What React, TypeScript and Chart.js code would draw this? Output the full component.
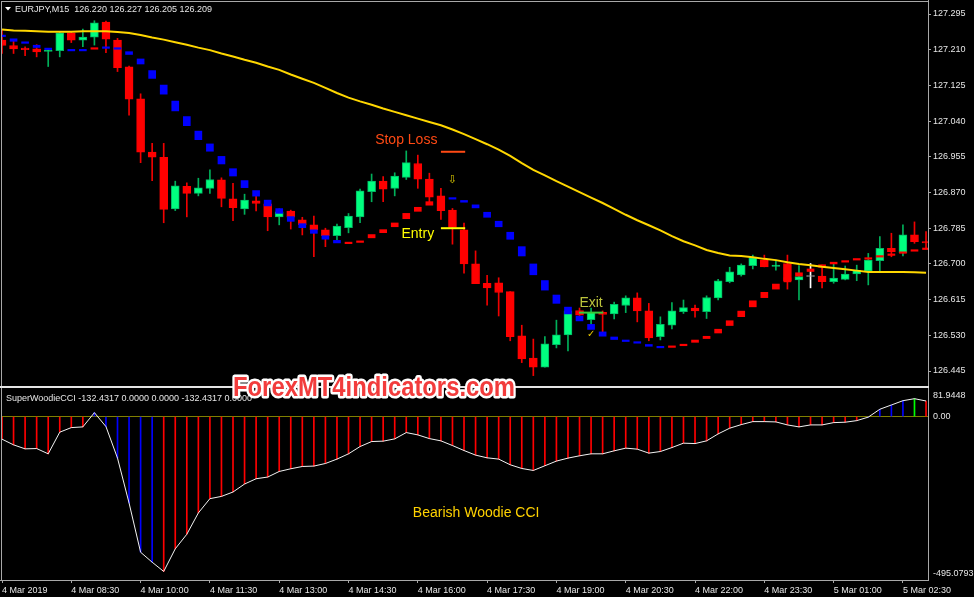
import React, { useEffect, useRef } from 'react';
import { Chart, registerables } from 'chart.js';

Chart.register(...registerables);

// ---------------- data ----------------
const symbolTitle = 'EURJPY,M15  126.220 126.227 126.205 126.209';
const cciTitle = 'SuperWoodieCCI -132.4317 0.0000 0.0000 -132.4317 0.0000';
const watermark = 'ForexMT4indicators.com';

const timeTickBars = [0, 6, 12, 18, 24, 30, 36, 42, 48, 54, 60, 66, 72, 78];
const timeTickLabels = [
  '4 Mar 2019', '4 Mar 08:30', '4 Mar 10:00', '4 Mar 11:30', '4 Mar 13:00', '4 Mar 14:30', '4 Mar 16:00',
  '4 Mar 17:30', '4 Mar 19:00', '4 Mar 20:30', '4 Mar 22:00', '4 Mar 23:30', '5 Mar 01:00', '5 Mar 02:30',
];
const priceTicks = [127.295, 127.21, 127.125, 127.04, 126.955, 126.87, 126.785, 126.7, 126.615, 126.53, 126.445];
const cciTicks = [81.9448, 0, -495.0793];
const cciTickLabels = ['81.9448', '0.00', '-495.0793'];

const opens = [
  127.233, 127.220, 127.214, 127.212, 127.206, 127.208, 127.250, 127.233, 127.240, 127.276,
  127.233, 127.169, 127.093, 126.966, 126.954, 126.831, 126.885, 126.868, 126.880, 126.900,
  126.855, 126.831, 126.850, 126.843, 126.812, 126.826, 126.805, 126.793, 126.781, 126.767,
  126.786, 126.812, 126.872, 126.897, 126.880, 126.906, 126.939, 126.902, 126.862, 126.828,
  126.781, 126.700, 126.654, 126.655, 126.634, 126.529, 126.476, 126.454, 126.508, 126.531,
  126.589, 126.567, 126.585, 126.581, 126.601, 126.619, 126.588, 126.527, 126.554, 126.586,
  126.595, 126.586, 126.619, 126.658, 126.674, 126.696, 126.710, 126.694, 126.701, 126.662,
  126.670, 126.671, 126.658, 126.663, 126.676, 126.683, 126.708, 126.737, 126.727, 126.769, 126.753,
];
const highs = [
  127.257, 127.231, 127.217, 127.222, 127.212, 127.253, 127.252, 127.259, 127.279, 127.278,
  127.237, 127.171, 127.105, 126.987, 126.987, 126.897, 126.893, 126.904, 126.924, 126.905,
  126.892, 126.866, 126.862, 126.850, 126.831, 126.828, 126.811, 126.814, 126.785, 126.795,
  126.820, 126.878, 126.914, 126.908, 126.917, 126.969, 126.959, 126.916, 126.880, 126.832,
  126.797, 126.731, 126.673, 126.667, 126.634, 126.554, 126.521, 126.527, 126.566, 126.596,
  126.595, 126.595, 126.588, 126.609, 126.624, 126.631, 126.606, 126.574, 126.608, 126.614,
  126.602, 126.624, 126.663, 126.692, 126.700, 126.721, 126.721, 126.709, 126.721, 126.696,
  126.701, 126.697, 126.701, 126.695, 126.697, 126.725, 126.765, 126.773, 126.793, 126.800, 126.777,
];
const lows = [
  127.201, 127.201, 127.196, 127.193, 127.170, 127.193, 127.227, 127.217, 127.221, 127.203,
  127.158, 127.054, 126.941, 126.898, 126.798, 126.827, 126.812, 126.862, 126.868, 126.836,
  126.803, 126.818, 126.826, 126.779, 126.793, 126.783, 126.769, 126.717, 126.741, 126.757,
  126.774, 126.798, 126.848, 126.848, 126.862, 126.901, 126.880, 126.848, 126.806, 126.747,
  126.678, 126.653, 126.602, 126.576, 126.517, 126.465, 126.434, 126.454, 126.500, 126.493,
  126.571, 126.555, 126.537, 126.569, 126.584, 126.562, 126.517, 126.519, 126.545, 126.582,
  126.573, 126.570, 126.614, 126.655, 126.671, 126.688, 126.693, 126.685, 126.640, 126.614,
  126.643, 126.643, 126.654, 126.662, 126.660, 126.650, 126.683, 126.717, 126.719, 126.749, 126.736,
];
const closes = [
  127.220, 127.212, 127.210, 127.205, 127.209, 127.250, 127.233, 127.240, 127.274, 127.235,
  127.167, 127.092, 126.966, 126.954, 126.830, 126.886, 126.868, 126.881, 126.901, 126.856,
  126.834, 126.852, 126.844, 126.812, 126.824, 126.811, 126.793, 126.781, 126.767, 126.790,
  126.814, 126.874, 126.897, 126.878, 126.909, 126.941, 126.902, 126.859, 126.827, 126.787,
  126.700, 126.653, 126.643, 126.632, 126.527, 126.474, 126.454, 126.510, 126.531, 126.588,
  126.578, 126.585, 126.580, 126.604, 126.619, 126.588, 126.524, 126.556, 126.588, 126.596,
  126.588, 126.620, 126.660, 126.681, 126.697, 126.715, 126.693, 126.697, 126.659, 126.670,
  126.670, 126.658, 126.666, 126.676, 126.685, 126.709, 126.737, 126.729, 126.769, 126.753, 126.750,
];

const maValues = [
  127.258, 127.256, 127.255, 127.254, 127.253, 127.253, 127.253, 127.254, 127.254, 127.254,
  127.252, 127.250, 127.245, 127.239, 127.234, 127.228, 127.222, 127.215, 127.209, 127.201,
  127.194, 127.186, 127.179, 127.170, 127.162, 127.151, 127.141, 127.131, 127.119, 127.107,
  127.096, 127.087, 127.079, 127.070, 127.062, 127.054, 127.046, 127.038, 127.030, 127.020,
  127.009, 126.997, 126.985, 126.972, 126.957, 126.940, 126.924, 126.911, 126.897, 126.884,
  126.871, 126.858, 126.845, 126.831, 126.817, 126.804, 126.792, 126.780, 126.766, 126.754,
  126.744, 126.733, 126.726, 126.720, 126.719, 126.716, 126.712, 126.709, 126.704, 126.700,
  126.697, 126.693, 126.690, 126.687, 126.684, 126.681, 126.681, 126.681, 126.681, 126.680, 126.679,
];

// SuperTrend: falling (blue) and rising (red) values per bar
const stDown = [
  127.243, 127.233, 127.227, 127.218, 127.212, null, 127.209, 127.209, null, 127.215,
  127.213, 127.202, 127.182, 127.151, 127.115, 127.076, 127.040, 127.006, 126.977, 126.947,
  126.918, 126.890, 126.868, 126.845, 126.826, 126.807, 126.791, 126.777, 126.763, 126.753,
  null, null, null, null, null, null, null, null, null, 126.856,
  126.849, 126.837, 126.817, 126.795, 126.767, 126.730, 126.687, 126.649, 126.616, 126.589,
  126.570, 126.550, 126.533, 126.523, 126.517, 126.513, 126.506, 126.502, null, null,
  null, null, null, null, null, null, null, null, null, null,
  null, null, null, null, null, null, null, null, null, null, null,
];
const stUp = [
  null, null, null, null, null, null, null, null, 127.213, null,
  null, null, null, null, null, null, null, null, null, null,
  null, null, null, null, null, null, null, null, null, null,
  126.750, 126.753, 126.766, 126.778, 126.793, 126.814, 126.830, 126.844, null, null,
  null, null, null, null, null, null, null, null, null, null,
  null, null, null, null, null, null, null, null, 126.503, 126.507,
  126.516, 126.525, 126.540, 126.559, 126.581, 126.605, 126.626, 126.646, 126.662, 126.675,
  126.685, 126.695, 126.702, 126.706, 126.711, 126.713, 126.718, 126.722, 126.727, 126.732, 126.736,
];

const cciValues = [
  -68.3, -85.5, -97.6, -96.7, -112.7, -47.1, -33.2, -31.1, 12.1, -30.2,
  -125.7, -261.6, -410.9, -441.1, -469.2, -400.6, -356.5, -291.8, -248.6, -241.7,
  -228.4, -204.2, -188.2, -183.1, -166.2, -158.0, -151.1, -149.8, -142.0, -128.7,
  -112.7, -90.6, -75.5, -74.3, -67.4, -48.3, -55.3, -66.5, -73.4, -87.6,
  -102.7, -116.6, -124.8, -128.7, -145.9, -157.1, -163.1, -148.9, -134.7, -125.7,
  -118.7, -112.7, -112.7, -103.6, -95.5, -98.5, -110.6, -105.7, -93.7, -80.4,
  -81.6, -73.4, -52.3, -35.0, -24.2, -15.1, -15.1, -16.0, -25.1, -31.1,
  -25.1, -25.1, -18.1, -16.9, -12.1, -1.5, 22.4, 35.3, 48.3, 54.4, 47.4,
];
// Woodie CCI histogram state per bar: R = bearish, B = bullish, G = neutral
const cciState = 'RRRRRRRRBBBBBBRRRRRRRRRRRRRRRRRRRRRRRRRRRRRRRRRRRRRRRRRRRRRRRRRRRRRRRRRRRRRBBBBG'.split('');

// trade levels (price) and the bars they span
const stopLossLevel = 126.967;
const entryLevel = 126.785;
const exitLevel = 126.584;
const tradeLevelBars = [38.0, 40.1];
const exitLevelBars = [49.95, 52.05];

// ---------------- layout / style ----------------
const X_MIN = 0;
const X_MAX = 80.17;
const PRICE_MIN = 126.4093;
const PRICE_MAX = 127.3236;
const CCI_MIN = -495.0793;
const CCI_MAX = 81.9448;

const FONT = '"Liberation Sans", Arial, sans-serif';
const TEXT = '#e6e6e6';
const FRAME = '#a8a8a8';
const SEPARATOR = '#e4e4e4';

const tradeNotes = [
  { text: 'Stop Loss', bar: 35.0, price: 126.985, color: '#ff4a14' },
  { text: 'Entry', bar: 36.0, price: 126.761, color: '#ffff00' },
  { text: 'Exit', bar: 51.0, price: 126.598, color: '#bcc43c' },
];
const sellArrow = { bar: 39.0, price: 126.9 };
const exitCheck = { bar: 51.0, price: 126.533 };
const cciNote = { text: 'Bearish Woodie CCI', bar: 41.05, value: -305 };

function drawWatermark(ctx: CanvasRenderingContext2D, offsetY: number) {
  ctx.save();
  ctx.font = `bold 27px ${FONT}`;
  const w = ctx.measureText(watermark).width;
  const sx = 282 / w;
  ctx.translate(233, 395.5 - offsetY);
  ctx.scale(sx, 1);
  ctx.lineJoin = 'round';
  ctx.lineWidth = 5;
  ctx.strokeStyle = '#ffffff';
  ctx.textAlign = 'left';
  ctx.textBaseline = 'alphabetic';
  ctx.strokeText(watermark, 0, 0);
  ctx.fillStyle = '#f23c3c';
  ctx.fillText(watermark, 0, 0);
  ctx.restore();
}

function stBars(arr: (number | null)[]) {
  const out: any[] = [];
  arr.forEach((v, i) => {
    if (v == null) return;
    const prev = i > 0 ? arr[i - 1] : null;
    const h = Math.max(0.0036, prev == null ? 0 : 0.6 * Math.abs(v - prev));
    out.push({ x: i, y: [v - h / 2, v + h / 2] });
  });
  return out;
}

const blackBg = {
  id: 'blackBg',
  beforeDraw(chart: any) {
    const c = chart.ctx;
    c.save();
    c.fillStyle = '#000000';
    c.fillRect(0, 0, chart.width, chart.height);
    c.restore();
  },
};

function mainConfig(): any {
  const idx = opens.map((_, i) => i);
  const dir = idx.map((i) => (closes[i] > opens[i] ? 1 : closes[i] < opens[i] ? -1 : 0));
  const bodyFill = dir.map((d) => (d > 0 ? '#00ff7f' : d < 0 ? '#ff0000' : '#9a9a9a'));
  const bodyEdge = dir.map((d) => (d > 0 ? '#00b864' : d < 0 ? '#ff0000' : '#9a9a9a'));
  const wickCol = dir.map((d) => (d > 0 ? '#00b05a' : d < 0 ? '#f00000' : '#ffffff'));

  const levelLine = (level: number, bars: number[], color: string) => ({
    type: 'line',
    data: bars.map((b) => ({ x: b, y: level })),
    borderColor: color,
    borderWidth: 2,
    pointRadius: 0,
    order: 0,
  });

  return {
    type: 'bar',
    data: {
      datasets: [
        {
          type: 'line',
          label: 'MA',
          data: maValues.map((v, i) => ({ x: i, y: v })),
          borderColor: '#ffd700',
          borderWidth: 2,
          pointRadius: 0,
          order: 0,
        },
        levelLine(stopLossLevel, tradeLevelBars, '#ff4a14'),
        levelLine(entryLevel, tradeLevelBars, '#ffff00'),
        levelLine(exitLevel, exitLevelBars, '#38c838'),
        {
          label: 'SuperTrend down',
          data: stBars(stDown),
          backgroundColor: '#0000ff',
          barThickness: 7,
          grouped: false,
          order: 1,
        },
        {
          label: 'SuperTrend up',
          data: stBars(stUp),
          backgroundColor: '#ff0000',
          barThickness: 7,
          grouped: false,
          order: 1,
        },
        {
          label: 'Body',
          data: idx.map((i) => ({ x: i, y: [opens[i], closes[i]] })),
          backgroundColor: bodyFill,
          borderColor: bodyEdge,
          borderWidth: 1,
          borderSkipped: false,
          barThickness: 8,
          minBarLength: 1,
          grouped: false,
          order: 2,
        },
        {
          label: 'Wick',
          data: idx.map((i) => ({ x: i, y: [lows[i], highs[i]] })),
          backgroundColor: wickCol,
          barThickness: 1,
          grouped: false,
          order: 3,
        },
      ],
    },
    options: {
      animation: false,
      responsive: false,
      maintainAspectRatio: false,
      devicePixelRatio: 1,
      events: [],
      layout: { padding: { left: 2, top: 2, right: 0, bottom: 2 } },
      plugins: { legend: { display: false }, tooltip: { enabled: false } },
      scales: {
        x: { type: 'linear', min: X_MIN, max: X_MAX, offset: false, display: false, bounds: 'data' },
        y: {
          type: 'linear',
          position: 'right',
          min: PRICE_MIN,
          max: PRICE_MAX,
          bounds: 'data',
          afterBuildTicks: (s: any) => {
            s.ticks = priceTicks.map((v) => ({ value: v }));
          },
          afterFit: (s: any) => {
            s.width = 46;
            s.paddingTop = 0;
            s.paddingBottom = 0;
          },
          ticks: {
            autoSkip: false,
            padding: 2,
            color: TEXT,
            font: { family: FONT, size: 9 },
            callback: (v: any) => Number(v).toFixed(3),
          },
          grid: { drawOnChartArea: false, drawTicks: true, tickLength: 3, color: FRAME },
          border: { display: false },
        },
      },
    },
    plugins: [
      blackBg,
      {
        id: 'mainDecor',
        afterDraw(chart: any) {
          const ctx = chart.ctx as CanvasRenderingContext2D;
          const xs = chart.scales.x;
          const ys = chart.scales.y;
          ctx.save();
          ctx.fillStyle = FRAME;
          ctx.fillRect(1, 1, 928, 1);
          ctx.fillRect(1, 1, 1, 386);
          ctx.fillRect(928, 0, 1, 388);
          ctx.fillStyle = SEPARATOR;
          ctx.fillRect(0, 386, 929, 2);

          ctx.fillStyle = '#ffffff';
          ctx.beginPath();
          ctx.moveTo(5, 7);
          ctx.lineTo(11, 7);
          ctx.lineTo(8, 10.5);
          ctx.closePath();
          ctx.fill();
          ctx.font = `9px ${FONT}`;
          ctx.fillStyle = TEXT;
          ctx.textAlign = 'left';
          ctx.textBaseline = 'alphabetic';
          ctx.fillText(symbolTitle, 15, 12);

          ctx.font = `14px ${FONT}`;
          ctx.textAlign = 'center';
          for (const n of tradeNotes) {
            ctx.fillStyle = n.color;
            ctx.fillText(n.text, xs.getPixelForValue(n.bar), ys.getPixelForValue(n.price));
          }
          ctx.textBaseline = 'middle';
          ctx.font = `11px "DejaVu Sans", sans-serif`;
          ctx.fillStyle = '#d6c400';
          ctx.fillText('⇩', xs.getPixelForValue(sellArrow.bar), ys.getPixelForValue(sellArrow.price));
          ctx.font = `10px "DejaVu Sans", sans-serif`;
          ctx.fillStyle = '#e8c800';
          ctx.fillText('✓', xs.getPixelForValue(exitCheck.bar), ys.getPixelForValue(exitCheck.price));

          drawWatermark(ctx, 0);
          ctx.restore();
        },
      },
    ],
  };
}

function subConfig(): any {
  const histColors = cciState.map((s) => (s === 'B' ? '#0000ff' : s === 'G' ? '#00ff00' : '#ff0000'));
  return {
    type: 'bar',
    data: {
      datasets: [
        {
          type: 'line',
          label: 'CCI',
          data: cciValues.map((v, i) => ({ x: i, y: v })),
          borderColor: '#f2f2f2',
          borderWidth: 1,
          pointRadius: 0,
          order: 0,
        },
        {
          label: 'CCI histogram',
          data: cciValues.map((v, i) => ({ x: i, y: v })),
          backgroundColor: histColors,
          barThickness: 1,
          grouped: false,
          order: 1,
        },
      ],
    },
    options: {
      animation: false,
      responsive: false,
      maintainAspectRatio: false,
      devicePixelRatio: 1,
      events: [],
      layout: { padding: { left: 2, top: 1.6, right: 0, bottom: 0 } },
      plugins: { legend: { display: false }, tooltip: { enabled: false } },
      scales: {
        x: {
          type: 'linear',
          min: X_MIN,
          max: X_MAX,
          offset: false,
          bounds: 'data',
          afterBuildTicks: (s: any) => {
            s.ticks = timeTickBars.map((v) => ({ value: v }));
          },
          afterFit: (s: any) => {
            s.height = 17;
            s.paddingLeft = 0;
            s.paddingRight = 0;
          },
          ticks: {
            autoSkip: false,
            maxRotation: 0,
            minRotation: 0,
            align: 'start',
            padding: 2,
            color: TEXT,
            font: { family: FONT, size: 9 },
            callback: (_v: any, i: number) => timeTickLabels[i],
          },
          grid: { drawOnChartArea: false, drawTicks: true, tickLength: 3, color: FRAME, offset: false },
          border: { display: false },
        },
        y: {
          type: 'linear',
          position: 'right',
          min: CCI_MIN,
          max: CCI_MAX,
          bounds: 'data',
          afterBuildTicks: (s: any) => {
            s.ticks = cciTicks.map((v) => ({ value: v }));
          },
          afterFit: (s: any) => {
            s.width = 46;
            s.paddingTop = 0;
            s.paddingBottom = 0;
          },
          ticks: { display: false },
          grid: {
            drawOnChartArea: true,
            drawTicks: false,
            color: (c: any) => (c.tick && c.tick.value === 0 ? '#808000' : 'rgba(0,0,0,0)'),
          },
          border: { display: false },
        },
      },
    },
    plugins: [
      blackBg,
      {
        id: 'subDecor',
        afterDraw(chart: any) {
          const ctx = chart.ctx as CanvasRenderingContext2D;
          const xs = chart.scales.x;
          const ys = chart.scales.y;
          const area = chart.chartArea;
          ctx.save();
          ctx.fillStyle = FRAME;
          ctx.fillRect(1, 0, 1, 192);
          ctx.fillRect(928, 0, 1, 193);
          ctx.fillRect(0, 192, 929, 1);

          ctx.font = `9px ${FONT}`;
          ctx.fillStyle = TEXT;
          ctx.textAlign = 'left';
          ctx.textBaseline = 'alphabetic';
          ctx.fillText(cciTitle, 6, 12.5);

          ctx.textBaseline = 'middle';
          cciTicks.forEach((v, i) => {
            let yy = ys.getPixelForValue(v);
            yy = Math.min(Math.max(yy, area.top + 6), area.bottom - 6);
            ctx.fillText(cciTickLabels[i], 933, yy);
          });

          ctx.font = `14px ${FONT}`;
          ctx.textAlign = 'center';
          ctx.textBaseline = 'alphabetic';
          ctx.fillStyle = '#ffd200';
          ctx.fillText(cciNote.text, xs.getPixelForValue(cciNote.bar), ys.getPixelForValue(cciNote.value));

          drawWatermark(ctx, 388);
          ctx.restore();
        },
      },
    ],
  };
}

export default function App() {
  const mainRef = useRef<HTMLCanvasElement>(null);
  const subRef = useRef<HTMLCanvasElement>(null);

  useEffect(() => {
    document.body.style.margin = '0';
    document.body.style.background = '#000';
    const main = new Chart(mainRef.current as HTMLCanvasElement, mainConfig());
    const sub = new Chart(subRef.current as HTMLCanvasElement, subConfig());
    return () => {
      main.destroy();
      sub.destroy();
    };
  }, []);

  return (
    <div style={{ position: 'absolute', left: 0, top: 0, width: 974, height: 597, background: '#000', overflow: 'hidden' }}>
      <canvas
        ref={mainRef}
        width={974}
        height={388}
        style={{ position: 'absolute', left: 0, top: 0, width: 974, height: 388 }}
      />
      <canvas
        ref={subRef}
        width={974}
        height={209}
        style={{ position: 'absolute', left: 0, top: 388, width: 974, height: 209 }}
      />
    </div>
  );
}
